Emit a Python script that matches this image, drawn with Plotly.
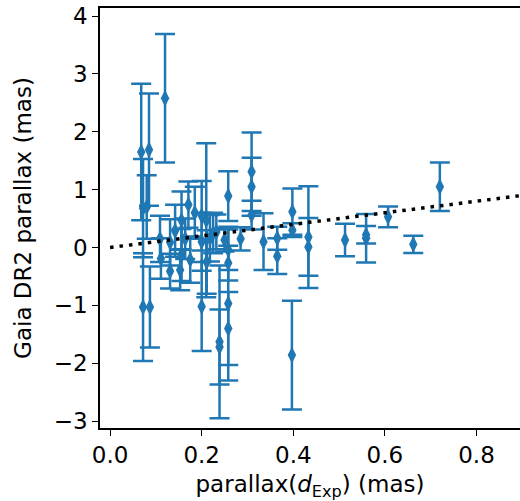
import plotly.graph_objects as go

# parallax(d_Exp) in mas
x_vals = [0.068, 0.085, 0.072, 0.080, 0.072, 0.087, 0.120, 0.109, 0.111, 0.131,
          0.131, 0.142, 0.156, 0.156, 0.153, 0.164, 0.171, 0.175, 0.185, 0.200,
          0.200, 0.200, 0.210, 0.218, 0.211, 0.225, 0.239, 0.239, 0.232, 0.258,
          0.258, 0.258, 0.258, 0.258, 0.250, 0.309, 0.309, 0.309, 0.285, 0.335,
          0.365, 0.365, 0.398, 0.398, 0.397, 0.433, 0.433, 0.513, 0.559, 0.559,
          0.607, 0.662, 0.720]
# Gaia DR2 parallax in mas
y_vals = [1.65, 1.69, 0.68, 0.70, -1.03, -1.03, 2.58, 0.15, -0.19, 0.09,
          -0.41, 0.29, 0.47, -0.13, -0.39, 0.15, 0.74, -0.21, 0.60, 0.55,
          0.10, -1.02, 0.47, 0.16, -0.25, 0.25, -1.63, -1.72, 0.27, 0.89,
          -0.04, -0.27, -0.97, -1.40, 0.13, 1.31, 1.05, 0.56, 0.15, 0.10,
          0.16, -0.15, 0.62, 0.30, -1.86, 0.18, 0.01, 0.13, 0.16, 0.22,
          0.53, 0.055, 1.05]
y_errs = [1.18, 0.97, 0.85, 0.55, 0.93, 0.70, 1.11, 0.40, 0.35, 0.40,
          0.30, 0.45, 0.50, 0.45, 0.35, 0.35, 0.40, 0.40, 0.45, 0.60,
          0.50, 0.77, 1.33, 0.40, 0.55, 0.35, 1.32, 0.65, 0.30, 0.43,
          0.35, 0.30, 1.33, 0.63, 0.20, 0.68, 0.50, 0.25, 0.20, 0.49,
          0.20, 0.31, 0.40, 0.12, 0.94, 0.88, 0.50, 0.28, 0.42, 0.15,
          0.18, 0.15, 0.42]

line_x = [0.0, 1.0]
line_y = [0.0, 1.0]

x_ticks = [0.0, 0.2, 0.4, 0.6, 0.8]
x_ticktext = ["0.0", "0.2", "0.4", "0.6", "0.8"]
y_ticks = [-3, -2, -1, 0, 1, 2, 3, 4]

blue = "#1f77b4"
font_family = "DejaVu Sans"
fs = 23

fig = go.Figure()
fig.add_trace(go.Scatter(
    x=x_vals, y=y_vals, mode="markers",
    marker=dict(symbol="diamond-tall", size=12, color=blue, line=dict(width=0)),
    error_y=dict(type="data", array=y_errs, visible=True, color=blue,
                 thickness=2.5, width=10),
    showlegend=False, hoverinfo="skip",
))
fig.add_trace(go.Scatter(
    x=line_x, y=line_y, mode="lines",
    line=dict(color="black", width=3.5, dash="3.5px,6px"),
    showlegend=False, hoverinfo="skip",
))

fig.update_layout(
    width=520, height=501,
    margin=dict(l=100, r=0, t=8, b=73),
    paper_bgcolor="white", plot_bgcolor="white",
    font=dict(family=font_family, size=fs, color="black"),
    xaxis=dict(
        range=[-0.022, 0.895], tickvals=x_ticks, ticktext=x_ticktext,
        ticks="outside", ticklen=6, tickwidth=1.3, tickcolor="black",
        showline=True, linecolor="black", linewidth=1.5, mirror=True,
        showgrid=False, zeroline=False, automargin=False,
        title=dict(text="parallax(<i>d</i><sub>Exp</sub>) (mas)", standoff=9,
                   font=dict(size=fs)),
        tickfont=dict(size=fs),
    ),
    yaxis=dict(
        range=[-3.12, 4.14], tickvals=y_ticks,
        ticks="outside", ticklen=6, tickwidth=1.3, tickcolor="black",
        showline=True, linecolor="black", linewidth=1.5, mirror=False,
        showgrid=False, zeroline=False, automargin=False,
        title=dict(text="Gaia DR2 parallax (mas)", standoff=16,
                   font=dict(size=fs)),
        tickfont=dict(size=fs),
    ),
)

fig.write_html(
    "out.html",
    config={"displayModeBar": False},
    post_script="document.body.style.margin='0';document.body.style.overflow='hidden';",
)
